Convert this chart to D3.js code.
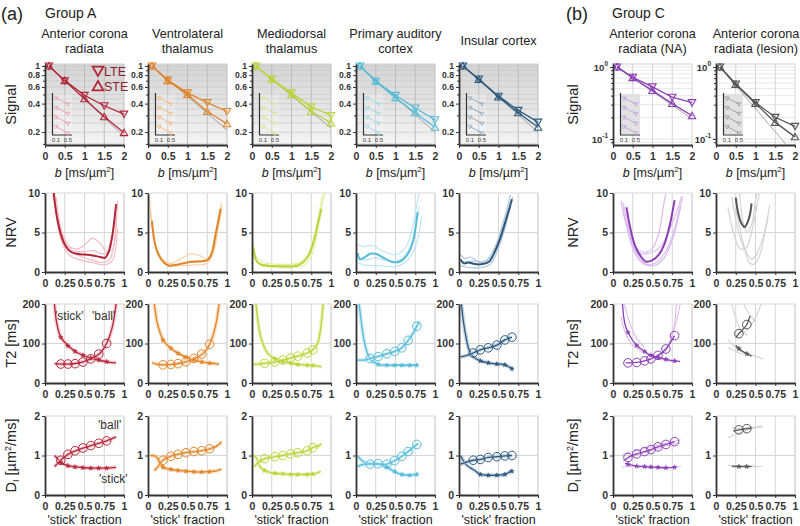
<!DOCTYPE html>
<html><head><meta charset="utf-8">
<script src="https://cdn.jsdelivr.net/npm/d3@7"></script>
<style>body{margin:0;background:#fff} text{font-family:Arial,"Liberation Sans",sans-serif}</style>
</head><body><svg id="c" width="800" height="526"></svg>
<script>
// ---------------- DATA ----------------
const regionLines = [["Anterior corona","radiata"],["Ventrolateral","thalamus"],["Mediodorsal","thalamus"],["Primary auditory","cortex"],["Insular cortex"],["Anterior corona","radiata (NA)"],["Anterior corona","radiata (lesion)"]];
const groupTags = ["(a)","(b)"];
const groupNames = ["Group A","Group C"];
const bValues = [0.1,0.5,1,1.5,2];
const bTicks = [0,0.5,1,1.5,2];
const fracTicks = [0,0.25,0.5,0.75,1];
const fracLabels = ["0","0.25","0.5","0.75","1"];
const sigTicksA = [0.2,0.4,0.6,0.8,1];
const sigLabelsA = ["0.2","0.4","0.6","0.8","1"];
const nrvTicks = [0,5,10], t2Ticks = [0,100,200], dTicks = [0,1,2];

const sigLTE = [[1,0.70,0.49,0.38,0.31],[1,0.71,0.52,0.41,0.33],[1,0.73,0.52,0.37,0.30],[1,0.69,0.49,0.36,0.27],[1,0.73,0.48,0.34,0.255],[1,0.72,0.53,0.38,0.32],[1,0.58,0.32,0.20,0.15]];
const sigSTE = [[1,0.70,0.45,0.29,0.197],[1,0.70,0.50,0.33,0.245],[1,0.72,0.50,0.33,0.25],[1,0.69,0.46,0.32,0.225],[1,0.72,0.47,0.32,0.225],[1,0.71,0.47,0.31,0.21],[1,0.57,0.31,0.17,0.107]];
const sigMono = [[1,0.18],[1,0.21],[1,0.22],[1,0.2],[1,0.2],[1,0.19],[1,0.06]];
const insetVals = [[1,0.8],[1,0.8],[1,0.79],[1,0.78]];

const nrvMain = [
 [[0.11,10],[0.15,7],[0.2,4.8],[0.26,3.3],[0.32,2.6],[0.4,2.3],[0.5,2.2],[0.6,2.1],[0.7,1.9],[0.76,1.8],[0.8,2.4],[0.85,4.5],[0.9,8.6]],
 [[0.05,6.5],[0.08,4],[0.12,2.5],[0.2,1.2],[0.27,0.8],[0.35,0.9],[0.45,1.1],[0.55,1.3],[0.65,1.35],[0.75,1.5],[0.8,2.2],[0.86,5],[0.92,8]],
 [[0.02,3],[0.05,1.5],[0.1,1.0],[0.2,0.8],[0.3,0.75],[0.4,0.7],[0.5,0.7],[0.6,0.9],[0.7,1.8],[0.78,3.8],[0.84,6.5],[0.88,8]],
 [[0.02,2.4],[0.05,1.6],[0.1,1.8],[0.18,2.3],[0.25,2.3],[0.35,1.8],[0.45,1.3],[0.55,1.3],[0.65,2.2],[0.72,3.8],[0.78,7.6]],
 [[0.02,1.6],[0.06,1.1],[0.12,1.2],[0.2,1.0],[0.3,1.0],[0.38,1.3],[0.45,2.5],[0.52,4.2],[0.6,6.8],[0.67,9.2]],
 [[0.17,8.2],[0.22,5.5],[0.28,3.3],[0.35,2],[0.42,1.3],[0.5,1.5],[0.58,2.2],[0.65,3.5],[0.72,6],[0.78,9.1]],
 [[0.25,9.4],[0.28,7.5],[0.32,6.2],[0.36,5.7],[0.4,6.3],[0.43,7.3],[0.45,8.7]]
];
const nrvLight = [
 [[[0.1,9.8],[0.2,5.5],[0.3,3.3],[0.4,2.9],[0.5,3.4],[0.6,4.3],[0.7,3.6],[0.78,2.6],[0.85,2.8],[0.9,7]],
  [[0.12,9],[0.2,5],[0.3,2.8],[0.45,2.0],[0.6,1.5],[0.72,1.2],[0.82,1.6],[0.88,4],[0.92,9]],
  [[0.12,10],[0.2,4.2],[0.3,2.2],[0.45,1.5],[0.6,1.2],[0.75,0.9],[0.85,1.4],[0.92,5.5]],
  [[0.14,9.5],[0.25,3.8],[0.35,2.7],[0.5,2.6],[0.62,2.7],[0.72,2.3],[0.8,2.5],[0.87,6]]],
 [[[0.02,9.5],[0.05,6],[0.1,3],[0.2,1.3],[0.3,1.1],[0.4,1.6],[0.55,2.3],[0.65,2.1],[0.75,1.7],[0.82,2.8],[0.88,6],[0.93,8.8]],
  [[0.03,8],[0.07,4.5],[0.15,1.8],[0.25,0.9],[0.4,0.8],[0.6,0.9],[0.75,1.1],[0.83,2.5],[0.9,6.5],[0.94,8.3]],
  [[0.04,7],[0.1,3.2],[0.2,1.5],[0.3,1.0],[0.5,1.2],[0.7,1.3],[0.8,1.8],[0.87,4.5],[0.93,7.8]]],
 [[[0.02,3.6],[0.06,1.8],[0.15,1.2],[0.3,1.0],[0.5,1.0],[0.62,1.3],[0.72,2.5],[0.8,5],[0.86,8],[0.9,10]],
  [[0.03,2.5],[0.1,0.9],[0.3,0.6],[0.5,0.55],[0.65,0.8],[0.75,2],[0.83,5],[0.9,9],[0.93,10]],
  [[0.03,2.8],[0.08,1.2],[0.2,0.9],[0.4,0.8],[0.6,1.1],[0.72,2.2],[0.8,4.5],[0.87,8.5],[0.9,10]]],
 [[[0.02,3.5],[0.1,3.2],[0.2,3.4],[0.35,2.6],[0.5,2.2],[0.62,3],[0.7,5],[0.78,9],[0.8,10]],
  [[0.02,1.2],[0.1,0.9],[0.3,0.8],[0.5,0.7],[0.62,1.2],[0.72,2.5],[0.8,5],[0.83,7]],
  [[0.02,2],[0.1,1.5],[0.25,1.8],[0.4,1.4],[0.55,1.5],[0.68,3],[0.76,6],[0.8,8.3]]],
 [[[0.02,2.2],[0.08,1.7],[0.15,1.9],[0.25,1.3],[0.35,1.5],[0.45,3],[0.55,6],[0.62,8.5],[0.65,9.8]],
  [[0.02,0.8],[0.1,0.6],[0.3,0.6],[0.4,1],[0.5,3],[0.58,5.5],[0.66,8.5]],
  [[0.02,1.3],[0.1,1.3],[0.2,1.4],[0.3,1.2],[0.42,2],[0.52,4.5],[0.6,7],[0.68,9.5]]],
 [[[0.12,8.3],[0.2,5],[0.3,3],[0.4,2.5],[0.5,3],[0.58,5],[0.65,9],[0.67,10]],
  [[0.1,9],[0.18,5.5],[0.3,2.5],[0.4,2.3],[0.5,2.5],[0.6,3.2],[0.7,5],[0.8,7.5],[0.87,9.6]],
  [[0.15,7],[0.25,3],[0.35,1.3],[0.45,0.8],[0.55,0.9],[0.65,1.8],[0.75,4],[0.83,7],[0.88,9.5]],
  [[0.13,8.8],[0.22,4.5],[0.32,2],[0.42,1.0],[0.55,1.2],[0.68,2.8],[0.78,5.5],[0.85,8.5]]],
 [[[0.15,8.2],[0.22,5],[0.3,3],[0.38,3],[0.45,5],[0.52,8.5],[0.55,10]],
  [[0.2,9.5],[0.3,4.5],[0.4,2.2],[0.45,1.6],[0.5,2],[0.6,4.5],[0.68,8.5]],
  [[0.25,8],[0.35,3.5],[0.42,1.2],[0.48,1.0],[0.55,2],[0.62,5],[0.66,7]],
  [[0.3,10],[0.35,6],[0.4,5],[0.45,6],[0.5,9],[0.52,10]]]
];

const t2Stick = [
 [[0.12,200],[0.15,150],[0.2,116],[0.3,93],[0.4,78],[0.5,69],[0.6,62],[0.7,57],[0.8,53],[0.9,51]],
 [[0.08,200],[0.12,150],[0.2,106],[0.3,86],[0.4,73],[0.5,64],[0.6,57],[0.7,53],[0.8,50],[0.9,48]],
 [[0.05,200],[0.08,150],[0.12,110],[0.2,75],[0.3,60],[0.4,54],[0.5,50],[0.6,47],[0.7,45],[0.8,44],[0.88,41]],
 [[0.04,200],[0.07,150],[0.1,110],[0.14,78],[0.18,60],[0.25,50],[0.3,46],[0.4,45],[0.5,45],[0.6,45],[0.7,45],[0.78,45]],
 [[0.03,200],[0.06,150],[0.09,115],[0.12,88],[0.17,68],[0.27,56],[0.37,51],[0.48,48],[0.58,46],[0.67,36]],
 [[0.12,200],[0.15,150],[0.19,128],[0.3,95],[0.4,80],[0.48,70],[0.57,65],[0.67,60],[0.78,56],[0.85,55]],
 [[0.25,95],[0.29,87],[0.39,74],[0.45,68]]
];
const t2Ball = [
 [[0.12,49],[0.2,48],[0.3,48],[0.4,50],[0.5,55],[0.6,63],[0.7,76],[0.78,100],[0.85,140],[0.9,200]],
 [[0.05,52],[0.1,48],[0.2,46],[0.3,47],[0.4,50],[0.5,55],[0.6,63],[0.7,75],[0.78,98],[0.85,140],[0.9,200]],
 [[0.02,47],[0.1,48],[0.16,50],[0.29,53],[0.39,58],[0.49,63],[0.58,68],[0.7,76],[0.77,84],[0.83,100],[0.87,140],[0.9,200]],
 [[0.02,58],[0.1,58],[0.18,62],[0.28,67],[0.39,74],[0.49,80],[0.58,89],[0.66,108],[0.72,125],[0.77,144],[0.8,155]],
 [[0.02,66],[0.1,70],[0.18,76],[0.27,84],[0.37,89],[0.48,96],[0.58,109],[0.67,116]],
 [[0.16,51],[0.19,51],[0.3,52],[0.4,56],[0.48,61],[0.57,70],[0.67,86],[0.75,110],[0.78,120]],
 [[0.25,115],[0.29,125],[0.39,148],[0.43,170]]
];
const t2BallMk = [
 [[0.2,48],[0.29,48],[0.38,49],[0.48,53],[0.58,61],[0.68,73],[0.78,100]],
 [[0.19,46],[0.29,47],[0.38,49],[0.48,54],[0.58,62],[0.68,73],[0.78,98]],
 [[0.16,50],[0.29,53],[0.39,58],[0.49,63],[0.58,68],[0.7,76],[0.77,84]],
 [[0.18,62],[0.28,67],[0.39,74],[0.49,80],[0.58,89],[0.66,108],[0.77,144]],
 [[0.18,76],[0.27,84],[0.37,89],[0.48,96],[0.58,109],[0.67,116]],
 [[0.19,51],[0.3,52],[0.4,56],[0.48,61],[0.57,70],[0.67,86],[0.78,120]],
 [[0.29,125],[0.39,148]]
];
const t2StickMk = [
 [[0.2,116],[0.29,94],[0.38,80],[0.48,70],[0.58,63],[0.68,58],[0.78,54]],
 [[0.19,108],[0.29,88],[0.38,75],[0.48,65],[0.58,58],[0.68,53],[0.78,50]],
 [[0.29,61],[0.39,54],[0.49,50],[0.58,47],[0.7,45],[0.77,44]],
 [[0.28,47],[0.39,45],[0.49,45],[0.58,45],[0.68,45],[0.77,45]],
 [[0.27,56],[0.37,51],[0.48,48],[0.58,46],[0.67,36]],
 [[0.19,128],[0.3,95],[0.4,80],[0.48,70],[0.57,65],[0.67,60],[0.78,56]],
 [[0.29,87],[0.39,74]]
];
const t2Light = [[],[],[],[],[],
 [[[0.55,65],[0.68,90],[0.78,140],[0.83,180],[0.85,200]],[[0.1,170],[0.15,130],[0.25,95],[0.4,75],[0.6,60],[0.8,52]],[[0.62,72],[0.72,100],[0.78,150],[0.8,200]],[[0.14,200],[0.2,160],[0.28,120],[0.4,90]]],
 [[[0.2,200],[0.25,165],[0.3,140],[0.4,120]],[[0.3,120],[0.4,135],[0.5,165],[0.57,200]],[[0.15,110],[0.25,90],[0.35,78],[0.5,68],[0.6,60]],[[0.2,100],[0.3,82],[0.45,70],[0.55,65]],[[0.35,200],[0.42,175],[0.5,155]],[[0.15,90],[0.25,80],[0.35,72]]]
];

const dBall = [
 [[0.12,0.72],[0.16,0.8],[0.2,0.88],[0.3,1.04],[0.4,1.13],[0.5,1.2],[0.6,1.26],[0.7,1.32],[0.78,1.37],[0.9,1.47]],
 [[0.08,0.62],[0.12,0.7],[0.16,0.82],[0.2,0.9],[0.3,0.99],[0.4,1.04],[0.5,1.08],[0.6,1.1],[0.7,1.13],[0.78,1.17],[0.88,1.25],[0.93,1.35]],
 [[0.03,0.72],[0.08,0.82],[0.16,0.92],[0.29,0.97],[0.39,1.0],[0.49,1.04],[0.58,1.07],[0.7,1.12],[0.77,1.2],[0.85,1.25],[0.88,1.3]],
 [[0.02,0.72],[0.1,0.78],[0.18,0.78],[0.28,0.79],[0.39,0.78],[0.49,0.87],[0.58,0.98],[0.66,1.1],[0.72,1.2],[0.77,1.28],[0.79,1.3]],
 [[0.02,0.78],[0.1,0.84],[0.18,0.88],[0.27,0.9],[0.37,0.95],[0.48,0.97],[0.58,0.99],[0.67,1.0]],
 [[0.15,0.88],[0.19,0.95],[0.3,1.04],[0.4,1.1],[0.48,1.15],[0.57,1.22],[0.67,1.28],[0.78,1.35]],
 [[0.22,1.62],[0.29,1.65],[0.39,1.68],[0.45,1.7]]
];
const dStick = [
 [[0.12,1.0],[0.16,0.92],[0.2,0.82],[0.3,0.74],[0.4,0.71],[0.5,0.69],[0.6,0.68],[0.7,0.68],[0.78,0.68],[0.9,0.7]],
 [[0.03,1.0],[0.1,0.98],[0.14,0.85],[0.18,0.72],[0.25,0.66],[0.35,0.63],[0.5,0.6],[0.65,0.58],[0.78,0.59],[0.88,0.62],[0.93,0.66]],
 [[0.02,1.0],[0.06,0.93],[0.1,0.72],[0.16,0.62],[0.25,0.56],[0.35,0.54],[0.5,0.52],[0.6,0.52],[0.7,0.52],[0.8,0.54],[0.87,0.6]],
 [[0.02,1.0],[0.06,0.9],[0.12,0.82],[0.2,0.8],[0.28,0.78],[0.38,0.72],[0.48,0.6],[0.58,0.52],[0.68,0.5],[0.78,0.52]],
 [[0.02,1.0],[0.06,0.85],[0.1,0.75],[0.15,0.68],[0.2,0.62],[0.27,0.52],[0.37,0.5],[0.48,0.5],[0.58,0.52],[0.67,0.62]],
 [[0.15,0.8],[0.19,0.78],[0.3,0.73],[0.4,0.72],[0.48,0.71],[0.57,0.7],[0.67,0.69],[0.78,0.7]],
 [[0.2,0.73],[0.29,0.72],[0.39,0.72],[0.45,0.72]]
];
const dBallMk = [
 [[0.2,0.88],[0.29,1.03],[0.38,1.12],[0.48,1.19],[0.58,1.25],[0.68,1.31],[0.78,1.37]],
 [[0.19,0.88],[0.29,0.98],[0.38,1.03],[0.48,1.07],[0.58,1.1],[0.68,1.12],[0.78,1.17]],
 [[0.16,0.92],[0.29,0.97],[0.39,1.0],[0.49,1.04],[0.58,1.07],[0.7,1.12],[0.77,1.2]],
 [[0.18,0.78],[0.28,0.79],[0.39,0.78],[0.49,0.87],[0.58,0.98],[0.66,1.1],[0.77,1.28]],
 [[0.18,0.88],[0.27,0.9],[0.37,0.95],[0.48,0.97],[0.58,0.99],[0.67,1.0]],
 [[0.19,0.95],[0.3,1.04],[0.4,1.1],[0.48,1.15],[0.57,1.22],[0.67,1.28],[0.78,1.35]],
 [[0.29,1.65],[0.39,1.68]]
];
const dStickMk = [
 [[0.2,0.82],[0.29,0.74],[0.38,0.71],[0.48,0.69],[0.58,0.68],[0.68,0.68],[0.78,0.68]],
 [[0.19,0.7],[0.29,0.65],[0.38,0.62],[0.48,0.6],[0.58,0.59],[0.68,0.58],[0.78,0.59]],
 [[0.16,0.62],[0.29,0.55],[0.39,0.54],[0.49,0.52],[0.58,0.52],[0.7,0.52],[0.77,0.53]],
 [[0.39,0.7],[0.49,0.59],[0.58,0.52],[0.68,0.5],[0.77,0.52]],
 [[0.27,0.52],[0.37,0.5],[0.48,0.5],[0.58,0.52],[0.67,0.6]],
 [[0.19,0.78],[0.3,0.73],[0.4,0.72],[0.48,0.71],[0.57,0.7],[0.67,0.69],[0.78,0.7]],
 [[0.29,0.72],[0.39,0.72]]
];
const dLight = [[],[],[],[],[],
 [[[0.12,1.02],[0.2,1.08],[0.35,1.15],[0.55,1.25],[0.75,1.35],[0.86,1.4]],[[0.12,0.7],[0.2,0.72],[0.4,0.7],[0.6,0.68],[0.86,0.72]],[[0.12,0.85],[0.25,0.98],[0.45,1.1],[0.7,1.26],[0.84,1.32]]],
 [[[0.15,1.45],[0.3,1.58],[0.45,1.68],[0.6,1.72]],[[0.2,1.7],[0.35,1.68],[0.5,1.72],[0.58,1.75]],[[0.15,0.75],[0.3,0.73],[0.45,0.72],[0.58,0.72]],[[0.2,0.7],[0.35,0.73],[0.5,0.74]]]
];

// ---------------- STYLE / LAYOUT ----------------
const mainCol = ["#b3263a","#e0852a","#bcd43a","#55bcd8","#2f5a7e","#8a3fb5","#555555"];
const lightCol = ["#f2bcc4","#f8d2a8","#e4efab","#bfe6f2","#b3c6d8","#dcbcee","#d4d4d4"];
const insetCol = ["#e99aa6","#f2b57a","#d5e58a","#98d6ea","#8aa3bd","#c39ae0","#9a9a9a"];
const colX = [45,148,252,356,459,613,716];
const W = 79;
const SIG = [64,145], NRV = [193,272], T2 = [304,383], DR = [416,495];
const FONT = 'Arial,"Liberation Sans",sans-serif';

const svg = d3.select("#c");
const defs = svg.append("defs");
const grad = defs.append("linearGradient").attr("id","bg").attr("x1",0).attr("x2",0).attr("y1",0).attr("y2",1);
grad.append("stop").attr("offset","0%").attr("stop-color","#d4d4d4");
grad.append("stop").attr("offset","100%").attr("stop-color","#f4f4f4");

function styleAxis(g, fs){
  g.attr("font-family",FONT);
  g.select(".domain").attr("stroke","#333").attr("stroke-width",1.8);
  g.selectAll(".tick line").attr("stroke","#333").attr("stroke-width",1);
  g.selectAll(".tick text").attr("font-size",fs||10.5).attr("font-weight","bold").attr("fill","#333");
}
let clipId = 0;
function makeClip(x,y,w,h){
  const id = "cl"+(clipId++);
  defs.append("clipPath").attr("id",id).append("rect").attr("x",x).attr("y",y).attr("width",w).attr("height",h);
  return "url(#"+id+")";
}
function frame(x0, r, xs, ys, xticks, hgrid){
  const g = svg.append("g");
  g.selectAll("line.v").data(xticks.slice(1)).join("line")
    .attr("x1",d=>xs(d)).attr("x2",d=>xs(d)).attr("y1",r[0]).attr("y2",r[1]).attr("stroke","#d6d6d6");
  g.selectAll("line.h").data(hgrid).join("line")
    .attr("x1",x0).attr("x2",x0+W).attr("y1",d=>ys(d)).attr("y2",d=>ys(d)).attr("stroke","#d6d6d6");
}
function xAxis(r, xs, ticks, labels){
  const g = svg.append("g").attr("transform",`translate(0,${r[1]})`)
    .call(d3.axisBottom(xs).tickValues(ticks).tickFormat((d,i)=>labels[i]).tickSize(3).tickPadding(5).tickSizeOuter(0));
  styleAxis(g);
}
function yAxis(x0, ys, ticks, labels, fs){
  const g = svg.append("g").attr("transform",`translate(${x0},0)`)
    .call(d3.axisLeft(ys).tickValues(ticks).tickFormat((d,i)=>labels?labels[i]:d).tickSize(3).tickPadding(2).tickSizeOuter(0));
  styleAxis(g, fs);
  return g;
}
const line = d3.line().x(d=>d[0]).y(d=>d[1]);
const smooth = d3.line().curve(d3.curveCatmullRom.alpha(0.5));

function yLabel(x, yc, build){
  const t = svg.append("text").attr("transform",`translate(${x},${yc}) rotate(-90)`)
    .attr("text-anchor","middle").attr("font-size",14.5).attr("fill","#222").attr("font-family",FONT);
  build(t);
}

// ---------- titles ----------
svg.append("text").attr("x",1).attr("y",20).attr("font-size",18).attr("fill","#222").attr("font-family",FONT).text(groupTags[0]);
svg.append("text").attr("x",45).attr("y",18).attr("font-size",14).attr("fill","#222").attr("font-family",FONT).text(groupNames[0]);
svg.append("text").attr("x",566).attr("y",20).attr("font-size",18).attr("fill","#222").attr("font-family",FONT).text(groupTags[1]);
svg.append("text").attr("x",612).attr("y",18).attr("font-size",14).attr("fill","#222").attr("font-family",FONT).text(groupNames[1]);

// y labels
[16,578].forEach(x=>{
  yLabel(x,(SIG[0]+SIG[1])/2,t=>t.text("Signal"));
  yLabel(x,(NRV[0]+NRV[1])/2,t=>t.text("NRV"));
  yLabel(x,(T2[0]+T2[1])/2,t=>t.text("T2 [ms]"));
  yLabel(x,(DR[0]+DR[1])/2,t=>{
    t.append("tspan").text("D");
    t.append("tspan").attr("font-size",9).attr("dy",3).text("I");
    t.append("tspan").attr("dy",-3).text(" [µm");
    t.append("tspan").attr("font-size",9).attr("dy",-5).text("2");
    t.append("tspan").attr("dy",5).text("/ms]");
  });
});

for(let i=0;i<7;i++){
  const x0 = colX[i], isC = i>=5, c = mainCol[i], lc = lightCol[i];
  // title
  const tl = regionLines[i];
  const tt = svg.append("text").attr("text-anchor","middle").attr("font-size",12.7).attr("fill","#222").attr("font-family",FONT);
  const tcx = i===6 ? 756 : x0+W/2;
  if(tl.length===2){
    tt.append("tspan").attr("x",tcx).attr("y",38).text(tl[0]);
    tt.append("tspan").attr("x",tcx).attr("y",53).text(tl[1]);
  } else tt.append("tspan").attr("x",tcx).attr("y",45).text(tl[0]);

  // ----- Signal panel -----
  const xs = d3.scaleLinear([0,2],[x0,x0+W]);
  const ys = d3.scaleLog(isC?[0.0825,1.1]:[0.146,1.05],[SIG[1],SIG[0]]);
  if(!isC) svg.append("rect").attr("x",x0).attr("y",SIG[0]).attr("width",W).attr("height",SIG[1]-SIG[0]).attr("fill","url(#bg)");
  const hg = isC?[0.09,0.1,0.2,0.3,0.4,0.5,0.6,0.7,0.8,0.9,1]:[0.15,0.2,0.25,0.3,0.35,0.4,0.45,0.5,0.6,0.7,0.8,0.9,1];
  svg.append("g").selectAll("line").data(hg).join("line")
    .attr("x1",x0).attr("x2",x0+W).attr("y1",d=>ys(d)).attr("y2",d=>ys(d)).attr("stroke",isC?"#dcdcdc":"#c9c9c9").attr("stroke-width",0.7);
  svg.append("g").selectAll("line").data([0.5,1,1.5,2]).join("line")
    .attr("x1",d=>xs(d)).attr("x2",d=>xs(d)).attr("y1",SIG[0]).attr("y2",SIG[1]).attr("stroke",isC?"#d6d6d6":"#bdbdbd");
  svg.append("line").attr("x1",x0).attr("x2",x0+W).attr("y1",SIG[0]).attr("y2",SIG[0]).attr("stroke","#cfcfcf");
  // inset
  const ix = d3.scaleLinear([0,0.6],[x0+8,x0+26]);
  if(isC) svg.append("rect").attr("x",x0+8).attr("y",94).attr("width",19).attr("height",40).attr("fill","#e2e2e2");
  else svg.append("rect").attr("x",x0+8).attr("y",94).attr("width",19).attr("height",40).attr("fill","#ffffff").attr("opacity",0.25);
  svg.append("path").attr("d",`M${x0+7.5},93V135H${x0+27}`).attr("fill","none").attr("stroke","#333").attr("stroke-width",1.2);
  [0.1,0.5].forEach(b=>{
    svg.append("text").attr("x",ix(b)).attr("y",142).attr("text-anchor","middle").attr("font-size",6).attr("fill","#444").attr("font-family",FONT).text(String(b));
  });
  insetVals.forEach((v,k)=>{
    const iy = d3.scaleLinear([0.7,1],[98+k*9.5+9,98+k*9.5]);
    const pts = [[ix(0.1),iy(v[0])],[ix(0.5),iy(v[1])]];
    svg.append("path").attr("d",line(pts)).attr("stroke",insetCol[i]).attr("fill","none").attr("stroke-width",0.9);
    pts.forEach(p=>svg.append("path").attr("d",d3.symbol(d3.symbolTriangle,8)()).attr("transform",`translate(${p[0]},${p[1]}) rotate(180)`).attr("fill","none").attr("stroke",insetCol[i]).attr("stroke-width",0.7));
  });
  // mono-exp reference
  const clipS = makeClip(x0,SIG[0]-6,W+6,SIG[1]-SIG[0]+6);
  svg.append("path").attr("clip-path",clipS).attr("d",line([[xs(0.1),ys(sigMono[i][0])],[xs(2),ys(sigMono[i][1])]]))
    .attr("stroke","#8f8f8f").attr("stroke-width",0.8).attr("fill","none");
  [[sigLTE[i],180],[sigSTE[i],0]].forEach(([vals,rot])=>{
    const pts = vals.map((v,k)=>[xs(bValues[k]),ys(v)]);
    svg.append("path").attr("d",line(pts)).attr("stroke",c).attr("stroke-width",1.3).attr("fill","none");
    pts.forEach(p=>svg.append("path").attr("d",d3.symbol(d3.symbolTriangle,24)()).attr("transform",`translate(${p[0]},${p[1]+(rot?-0.8:0.8)}) rotate(${rot})`).attr("fill","none").attr("stroke",c).attr("stroke-width",1.1));
  });
  xAxis(SIG, xs, bTicks, ["0","0.5","1","1.5","2"]);
  if(isC){
    const g = yAxis(x0, ys, [0.1,1], ["",""], 9.5);
    g.selectAll(".tick text").each(function(d){
      const t = d3.select(this); t.text("");
      t.append("tspan").text("10");
      t.append("tspan").attr("font-size",6.5).attr("dy",-5).text(d===1?"0":"-1");
    });
    svg.append("g").attr("transform",`translate(${x0},0)`).call(d3.axisLeft(ys).tickValues([0.09,0.2,0.3,0.4,0.5,0.6,0.7,0.8,0.9]).tickFormat("").tickSize(2).tickSizeOuter(0))
      .call(g=>{g.select(".domain").remove(); g.selectAll("line").attr("stroke","#333");});
  } else {
    yAxis(x0, ys, sigTicksA, sigLabelsA, 8.6);
    svg.append("g").attr("transform",`translate(${x0},0)`).call(d3.axisLeft(ys).tickValues([0.15,0.3,0.5,0.7,0.9]).tickFormat("").tickSize(2).tickSizeOuter(0))
      .call(g=>{g.select(".domain").remove(); g.selectAll("line").attr("stroke","#333");});
  }
  const bl = svg.append("text").attr("x",x0+W/2).attr("y",177).attr("text-anchor","middle").attr("font-size",12.5).attr("fill","#222").attr("font-family",FONT);
  bl.append("tspan").attr("font-style","italic").text("b");
  bl.append("tspan").text(" [ms/µm");
  bl.append("tspan").attr("font-size",8).attr("dy",-5).text("2");
  bl.append("tspan").attr("dy",5).text("]");

  if(i===0){
    const lg = svg.append("g");
    [["LTE",180,71],["STE",0,86]].forEach(([lab,rot,y])=>{
      lg.append("path").attr("d",d3.symbol(d3.symbolTriangle,50)()).attr("transform",`translate(${x0+53},${y+(rot?-1.2:1.2)}) rotate(${rot})`).attr("fill","none").attr("stroke",c).attr("stroke-width",1.8);
      lg.append("text").attr("x",x0+59).attr("y",y+4.5).attr("font-size",12.5).attr("fill","#8a1f2c").attr("font-family",FONT).text(lab);
    });
  }

  const fx = d3.scaleLinear([0,1],[x0,x0+W]);

  // ----- NRV -----
  const yn = d3.scaleLinear([0,10],[NRV[1],NRV[0]]);
  frame(x0,NRV,fx,yn,fracTicks,[5,10]);
  svg.append("line").attr("x1",x0+W).attr("x2",x0+W).attr("y1",NRV[0]).attr("y2",NRV[1]).attr("stroke","#d6d6d6");
  const clipN = makeClip(x0,NRV[0],W,NRV[1]-NRV[0]);
  const gn = svg.append("g").attr("clip-path",clipN);
  nrvLight[i].forEach(cv=>gn.append("path").attr("d",smooth(cv.map(p=>[fx(p[0]),yn(p[1])]))).attr("fill","none").attr("stroke",lc).attr("stroke-width",1.2));
  gn.append("path").attr("d",smooth(nrvMain[i].map(p=>[fx(p[0]),yn(p[1])]))).attr("fill","none").attr("stroke",c).attr("stroke-width",2);
  xAxis(NRV, fx, fracTicks, fracLabels);
  yAxis(x0, yn, nrvTicks, ["0","5","10"]);

  // ----- T2 / D -----
  [[T2,d3.scaleLinear([0,200],[T2[1],T2[0]]),t2Stick,t2Ball,t2StickMk,t2BallMk,t2Light,[100,200],t2Ticks,["0","100","200"]],
   [DR,d3.scaleLinear([0,2],[DR[1],DR[0]]),dStick,dBall,dStickMk,dBallMk,dLight,[1,2],dTicks,["0","1","2"]]].forEach(([R,yv,st,ba,stM,baM,lt,hg2,tk,tl2])=>{
    frame(x0,R,fx,yv,fracTicks,hg2);
    svg.append("line").attr("x1",x0+W).attr("x2",x0+W).attr("y1",R[0]).attr("y2",R[1]).attr("stroke","#d6d6d6");
    const g = svg.append("g").attr("clip-path",makeClip(x0,R[0],W,R[1]-R[0]));
    lt[i].forEach(cv=>g.append("path").attr("d",smooth(cv.map(p=>[fx(p[0]),yv(p[1])]))).attr("fill","none").attr("stroke",lc).attr("stroke-width",1.1));
    [st[i],ba[i]].forEach(cv=>{
      const d = smooth(cv.map(p=>[fx(p[0]),yv(p[1])]));
      if(i<5) g.append("path").attr("d",d).attr("fill","none").attr("stroke",lc).attr("stroke-width",4).attr("stroke-opacity",0.7);
      g.append("path").attr("d",d).attr("fill","none").attr("stroke",c).attr("stroke-width",1.3);
    });
    baM[i].forEach(p=>g.append("circle").attr("cx",fx(p[0])).attr("cy",yv(p[1])).attr("r",4.3).attr("fill","none").attr("stroke",c).attr("stroke-width",1));
    stM[i].forEach(p=>g.append("path").attr("d",d3.symbol(d3.symbolStar,7)()).attr("transform",`translate(${fx(p[0])},${yv(p[1])})`).attr("fill",c).attr("stroke",c).attr("stroke-width",0.5));
    xAxis(R, fx, fracTicks, fracLabels);
    yAxis(x0, yv, tk, tl2);
  });
  svg.append("text").attr("x",x0+W/2).attr("y",524).attr("text-anchor","middle").attr("font-size",12.5).attr("fill","#222").attr("font-family",FONT).text("'stick' fraction");
}
// annotations
[["'stick'",55,320],["'ball'",92,320],["'ball'",98,429],["'stick'",99,483]].forEach(([t,x,y])=>{
  svg.append("text").attr("x",x).attr("y",y).attr("font-size",12).attr("fill","#333").attr("font-family",FONT).text(t);
});
</script></body></html>
